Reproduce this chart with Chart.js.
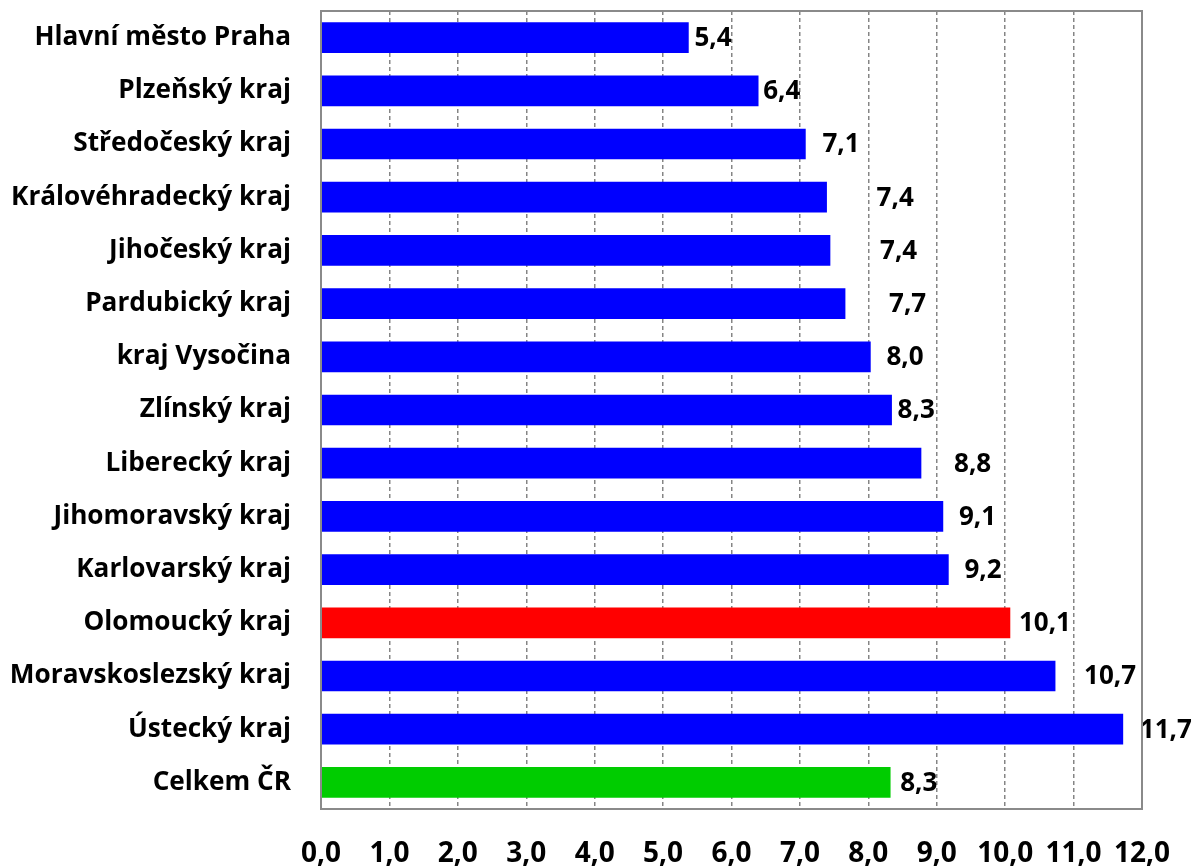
<!DOCTYPE html>
<html>
<head>
<meta charset="utf-8">
<script src="https://cdn.jsdelivr.net/npm/chart.js@4"></script>
<style>
html,body{margin:0;padding:0;background:#fff;}
#wrap{width:1194px;height:866px;}
</style>
</head>
<body>
<div id="wrap"><canvas id="c" width="1194" height="866"></canvas></div>
<script>
const categories = [
  'Hlavní město Praha','Plzeňský kraj','Středočeský kraj','Královéhradecký kraj',
  'Jihočeský kraj','Pardubický kraj','kraj Vysočina','Zlínský kraj','Liberecký kraj',
  'Jihomoravský kraj','Karlovarský kraj','Olomoucký kraj','Moravskoslezský kraj',
  'Ústecký kraj','Celkem ČR'
];
const values = [5.37, 6.39, 7.08, 7.39, 7.44, 7.66, 8.03, 8.34, 8.77, 9.09, 9.17, 10.07, 10.73, 11.72, 8.32];
const tickValues = [0,1,2,3,4,5,6,7,8,9,10,11,12];

// label offsets (px) from bar end, as in the reference
const labelGaps = [6,5,17,50,50,44,16,6,33,16,16,9,29,17,10];

function barColor(name){
  if (name === 'Olomoucký kraj') return '#FF0000';
  if (name === 'Celkem ČR') return '#00CC00';
  return '#0000FF';
}
function fmt(v){ return (Math.round(v*10)/10).toFixed(1).replace('.', ','); }

const FONT = "'Open Sans', sans-serif";

const labelPlugin = {
  id: 'valLabels',
  afterDatasetsDraw(chart){
    const ctx = chart.ctx;
    const meta = chart.getDatasetMeta(0);
    ctx.save();
    ctx.font = "bold 26px " + FONT;
    ctx.fillStyle = '#000';
    ctx.textAlign = 'left';
    ctx.textBaseline = 'middle';
    meta.data.forEach((bar, i) => {
      ctx.fillText(fmt(values[i]), bar.x + labelGaps[i], bar.y + 1);
    });
    ctx.restore();
  }
};
const framePlugin = {
  id: 'frame',
  afterDraw(chart){
    const {ctx, chartArea:a} = chart;
    ctx.save();
    ctx.strokeStyle = '#8a8a8a';
    ctx.lineWidth = 2;
    ctx.strokeRect(a.left, a.top, a.right - a.left, a.bottom - a.top);
    ctx.restore();
  }
};

new Chart(document.getElementById('c'), {
  type: 'bar',
  data: {
    labels: categories,
    datasets: [{
      data: values,
      backgroundColor: categories.map(barColor),
      barThickness: 30,
      borderWidth: 0
    }]
  },
  options: {
    indexAxis: 'y',
    responsive: false,
    animation: false,
    devicePixelRatio: 1,
    layout: { padding: { left: 0, right: 52, top: 11, bottom: 0 } },
    plugins: { legend: { display: false }, tooltip: { enabled: false } },
    scales: {
      x: {
        type: 'linear',
        min: 0, max: 12,
        afterBuildTicks(scale){ scale.ticks = tickValues.map(v => ({value: v})); },
        afterFit(scale){ scale.height = 57; scale.paddingLeft = 0; scale.paddingRight = 0; },
        grid: { color: '#858585', lineWidth: 1.5, drawTicks: false },
        border: { display: true, color: '#8a8a8a', width: 2, dash: [4,3] },
        ticks: {
          padding: 28,
          color: '#000',
          font: { family: FONT, size: 28, weight: 'bold' },
          callback: v => v.toFixed(1).replace('.', ','),
          maxRotation: 0, autoSkip: false
        }
      },
      y: {
        grid: { display: false, drawTicks: false },
        border: { display: true, color: '#8a8a8a', width: 2 },
        afterFit(scale){ scale.width = 321; scale.paddingTop = 0; scale.paddingBottom = 0; },
        ticks: {
          padding: 30,
          color: '#000',
          font: { family: FONT, size: 26.2, weight: 'bold' },
          autoSkip: false
        }
      }
    }
  },
  plugins: [labelPlugin, framePlugin]
});
</script>
</body>
</html>
